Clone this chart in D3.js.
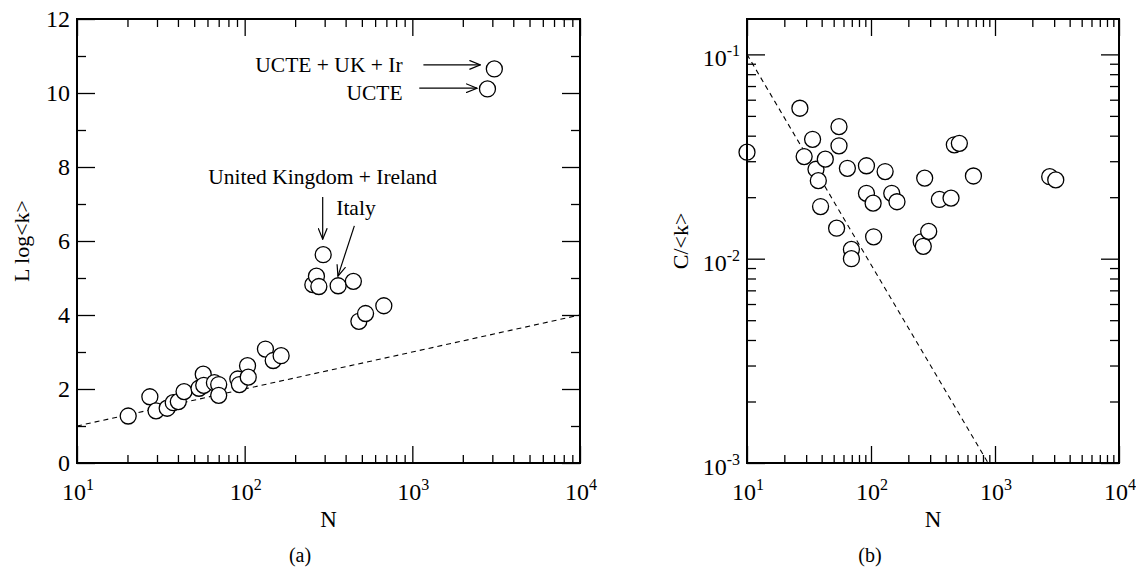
<!DOCTYPE html>
<html>
<head>
<meta charset="utf-8">
<script src="https://cdn.jsdelivr.net/npm/d3@7"></script>
<style>
  body { margin: 0; background: #fff; }
  svg { display: block; }
  text { font-family: "Liberation Serif", "Times New Roman", serif; fill: #000; }
</style>
</head>
<body>
<svg id="chart" width="1136" height="581"></svg>
<script>
// ---- data ----
// panel (a): L log<k> vs N
var leftN = [20.2, 27.2, 29.6, 34.5, 37.5, 40.2, 43.5, 53.4, 56.6, 57, 66, 70, 70, 91, 93, 104, 105,
             133, 148, 165, 255, 268, 277, 294, 361, 445, 480, 526, 676, 2806, 3084];
var leftL = [1.27, 1.79, 1.41, 1.48, 1.63, 1.66, 1.93, 2.02, 2.40, 2.10, 2.17, 2.12, 1.83, 2.27, 2.12, 2.63, 2.32,
             3.08, 2.77, 2.90, 4.82, 5.05, 4.77, 5.63, 4.79, 4.91, 3.83, 4.04, 4.25, 10.11, 10.65];
// panel (b): C/<k> vs N
var rightN = [10, 26.7, 28.9, 33.8, 36.0, 37.6, 39.2, 42.8, 52.8, 55.2, 55.2, 64.5, 69.5, 69.5, 91.9, 91.9,
              104, 105, 130, 147, 162, 254, 264, 271, 292, 356, 442, 470, 516, 670, 2761, 3090];
var rightC = [0.0332, 0.0545, 0.0316, 0.0384, 0.0274, 0.0241, 0.0180, 0.0307, 0.0141, 0.0443, 0.0357, 0.0277,
              0.0111, 0.0100, 0.0285, 0.0209, 0.0187, 0.0128, 0.0267, 0.0209, 0.0190, 0.0121, 0.0115, 0.0248,
              0.0136, 0.0195, 0.0198, 0.0361, 0.0367, 0.0254, 0.0252, 0.0243];
// dashed reference lines
var fitLeftN = [10, 10000], fitLeftY = [1, 4];
var fitRightN = [10, 880], fitRightY = [0.1, 0.001];

// tick labels
var xExponents = [1, 2, 3, 4];
var leftYTicks = [0, 2, 4, 6, 8, 10, 12];
var leftYMinor = [1, 3, 5, 7, 9, 11];
var rightYExponents = [-1, -2, -3];

// annotations of panel (a), anchored in data coordinates
var labelTexts = ["UCTE + UK + Ir", "UCTE", "United Kingdom + Ireland", "Italy"];
var labelN = [875, 875, 292, 461];
var labelY = [10.57, 9.81, 7.54, 6.70];
var labelAnchor = ["end", "end", "middle", "middle"];
var arrowFromN = [1164, 1100, 292, 451], arrowFromY = [10.76, 10.13, 7.19, 6.41];
var arrowToN = [2547, 2430, 292, 360], arrowToY = [10.76, 10.13, 6.05, 5.05];

// ---- layout ----
var svg = d3.select("#chart");
var plotTop = 19, plotBottom = 463;
var minorX = [];
[10, 100, 1000].forEach(function(d) { for (var k = 2; k <= 9; k++) minorX.push(d * k); });

var defs = svg.append("defs");
defs.append("marker")
  .attr("id", "arrow")
  .attr("viewBox", "0 0 12 10")
  .attr("refX", 11).attr("refY", 5)
  .attr("markerWidth", 12).attr("markerHeight", 10)
  .attr("markerUnits", "userSpaceOnUse")
  .attr("orient", "auto")
  .append("path")
  .attr("d", "M0,0.5 L11,5 L0,9.5")
  .attr("fill", "none")
  .attr("stroke", "#000")
  .attr("stroke-width", 1.2);

function frame(g, x, y, yMajor, yMinor) {
  var x0 = x.range()[0], x1 = x.range()[1];
  var majorX = xExponents.map(function(e) { return Math.pow(10, e); });
  function addAxis(axis, tx, ty) {
    var a = g.append("g").attr("transform", "translate(" + tx + "," + ty + ")").call(axis);
    a.select(".domain").remove();
    a.selectAll("line").attr("stroke", "#000").attr("stroke-width", 1.3);
    return a;
  }
  addAxis(d3.axisBottom(x).tickValues(majorX).tickSize(-17).tickFormat(""), 0, plotBottom);
  addAxis(d3.axisBottom(x).tickValues(minorX).tickSize(-8).tickFormat(""), 0, plotBottom);
  addAxis(d3.axisTop(x).tickValues(majorX).tickSize(-17).tickFormat(""), 0, plotTop);
  addAxis(d3.axisTop(x).tickValues(minorX).tickSize(-8).tickFormat(""), 0, plotTop);
  addAxis(d3.axisLeft(y).tickValues(yMajor).tickSize(-18).tickFormat(""), x0, 0);
  addAxis(d3.axisLeft(y).tickValues(yMinor).tickSize(-9).tickFormat(""), x0, 0);
  addAxis(d3.axisRight(y).tickValues(yMajor).tickSize(-18).tickFormat(""), x1, 0);
  addAxis(d3.axisRight(y).tickValues(yMinor).tickSize(-9).tickFormat(""), x1, 0);
  g.append("rect")
    .attr("x", x0).attr("y", plotTop)
    .attr("width", x1 - x0).attr("height", plotBottom - plotTop)
    .attr("fill", "none").attr("stroke", "#000").attr("stroke-width", 2);

  // x tick labels 10^n
  var xl = g.selectAll(".xl").data(xExponents).enter().append("text")
    .attr("class", "xl")
    .attr("x", function(d) { return x(Math.pow(10, d)) + 1; })
    .attr("y", 500)
    .attr("text-anchor", "middle")
    .style("font-size", "24px");
  xl.append("tspan").text("10");
  xl.append("tspan").attr("dy", -10).style("font-size", "16px").text(function(d) { return d; });

  g.append("text")
    .attr("x", (x0 + x1) / 2).attr("y", 527)
    .attr("text-anchor", "middle")
    .style("font-size", "23px")
    .text("N");
}

function points(g, x, y, xs, ys) {
  g.selectAll(".pt").data(xs).enter().append("circle")
    .attr("class", "pt")
    .attr("cx", function(d) { return x(d); })
    .attr("cy", function(d, i) { return y(ys[i]); })
    .attr("r", 8)
    .attr("fill", "#fff")
    .attr("stroke", "#000")
    .attr("stroke-width", 1.3);
}

function dashed(g, x, y, xs, ys) {
  var line = d3.line().x(function(d) { return x(d); }).y(function(d, i) { return y(ys[i]); });
  g.append("path")
    .datum(xs)
    .attr("d", line)
    .attr("fill", "none")
    .attr("stroke", "#000")
    .attr("stroke-width", 1.1)
    .attr("stroke-dasharray", "5,4");
}

// ---- panel (a) ----
var xa = d3.scaleLog().domain([10, 10000]).range([77, 580]);
var ya = d3.scaleLinear().domain([0, 12]).range([plotBottom, plotTop]);
var ga = svg.append("g");

dashed(ga, xa, ya, fitLeftN, fitLeftY);
points(ga, xa, ya, leftN, leftL);
frame(ga, xa, ya, leftYTicks, leftYMinor);

ga.selectAll(".yl").data(leftYTicks).enter().append("text")
  .attr("class", "yl")
  .attr("x", 70)
  .attr("y", function(d) { return ya(d) + 8; })
  .attr("text-anchor", "end")
  .style("font-size", "24px")
  .text(function(d) { return d; });

ga.append("text")
  .attr("transform", "translate(29," + ((plotTop + plotBottom) / 2) + ") rotate(-90)")
  .attr("text-anchor", "middle")
  .style("font-size", "22px")
  .text("L log<k>");

ga.selectAll(".ann").data(labelTexts).enter().append("text")
  .attr("class", "ann")
  .attr("x", function(d, i) { return xa(labelN[i]); })
  .attr("y", function(d, i) { return ya(labelY[i]); })
  .attr("text-anchor", function(d, i) { return labelAnchor[i]; })
  .style("font-size", "21.5px")
  .text(function(d) { return d; });

ga.selectAll(".arr").data(arrowFromN).enter().append("line")
  .attr("class", "arr")
  .attr("x1", function(d) { return xa(d); })
  .attr("y1", function(d, i) { return ya(arrowFromY[i]); })
  .attr("x2", function(d, i) { return xa(arrowToN[i]); })
  .attr("y2", function(d, i) { return ya(arrowToY[i]); })
  .attr("stroke", "#000")
  .attr("stroke-width", 1.2)
  .attr("marker-end", "url(#arrow)");

svg.append("text")
  .attr("x", 300).attr("y", 562)
  .attr("text-anchor", "middle")
  .style("font-size", "20px")
  .text("(a)");

// ---- panel (b) ----
var xb = d3.scaleLog().domain([10, 10000]).range([747, 1119]);
var yb = d3.scaleLog().domain([0.001, 0.149]).range([plotBottom, plotTop]);
var gb = svg.append("g");
var rightMajor = rightYExponents.map(function(e) { return Math.pow(10, e); });
var rightMinor = [];
[0.001, 0.01].forEach(function(d) { for (var k = 2; k <= 9; k++) rightMinor.push(d * k); });

dashed(gb, xb, yb, fitRightN, fitRightY);
points(gb, xb, yb, rightN, rightC);
frame(gb, xb, yb, rightMajor, rightMinor);

var yl = gb.selectAll(".ylb").data(rightYExponents).enter().append("text")
  .attr("class", "ylb")
  .attr("x", 740)
  .attr("y", function(d) { return yb(Math.pow(10, d)) + 12; })
  .attr("text-anchor", "end")
  .style("font-size", "24px");
yl.append("tspan").text("10");
yl.append("tspan").attr("dy", -10).style("font-size", "16px").text(function(d) { return d; });

gb.append("text")
  .attr("transform", "translate(688," + ((plotTop + plotBottom) / 2) + ") rotate(-90)")
  .attr("text-anchor", "middle")
  .style("font-size", "22px")
  .text("C/<k>");

svg.append("text")
  .attr("x", 870).attr("y", 562)
  .attr("text-anchor", "middle")
  .style("font-size", "20px")
  .text("(b)");
</script>
</body>
</html>
